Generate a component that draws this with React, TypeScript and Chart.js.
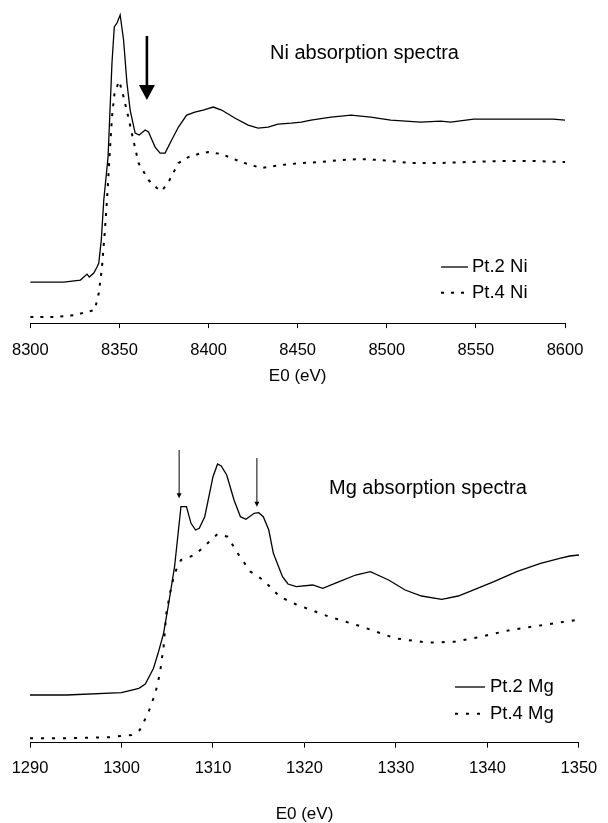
import { useEffect, useRef } from "react";
import { Chart, registerables } from "chart.js";

Chart.register(...registerables);

const FONT = "'Liberation Sans', Arial, Helvetica, sans-serif";

// ---- Ni K-edge spectra -------------------------------------------------
const NI_SERIES = ["Pt.2 Ni", "Pt.4 Ni"];
const NI_TICKS = [8300, 8350, 8400, 8450, 8500, 8550, 8600];

const NI_PT2_ENERGY = [
  8300, 8318.8, 8328.1, 8331.8, 8333.1, 8335.6, 8337.4, 8338.4, 8339.8, 8341.2,
  8343.6, 8345.8, 8347.1, 8348.6, 8350.4, 8352.3, 8354.2, 8356, 8358.8, 8361.1,
  8364.4, 8366.3, 8370, 8372.8, 8375.6, 8379.3, 8383.1, 8387.7, 8392.3, 8397,
  8402.6, 8407.3, 8414.7, 8422.2, 8427.8, 8433.4, 8439, 8446.4, 8452, 8457.5,
  8468.7, 8479.9, 8491, 8502.2, 8519, 8530.2, 8535.8, 8548.8, 8563.7, 8582.3,
  8593.3, 8600,
];
const NI_PT2_MU = [
  0.41, 0.41, 0.43, 0.49, 0.46, 0.5, 0.56, 0.6, 0.83, 1.23,
  1.66, 2.6, 2.96, 3.0, 3.08, 2.83, 2.4, 2.13, 1.9, 1.88,
  1.93, 1.91, 1.76, 1.7, 1.7, 1.83, 1.96, 2.08, 2.11, 2.13,
  2.16, 2.13, 2.05, 1.98, 1.95, 1.96, 1.99, 2.0, 2.01, 2.03,
  2.06, 2.08, 2.06, 2.03, 2.01, 2.02, 2.01, 2.04, 2.04, 2.04,
  2.04, 2.03,
];

const NI_PT4_ENERGY = [
  8300, 8314.1, 8325.3, 8330.9, 8336.1, 8338.4, 8340.2, 8341.7, 8343, 8344.3,
  8345.8, 8347.3, 8349.9, 8352.3, 8354.7, 8357.4, 8360.7, 8366.3, 8371, 8373.7,
  8377.5, 8383.1, 8388.7, 8396.1, 8399.8, 8407.3, 8418.4, 8429.6, 8440.8, 8452,
  8463.1, 8474.3, 8485.5, 8496.6, 8513.4, 8530.2, 8545.1, 8563.7, 8582.3, 8600,
];
const NI_PT4_MU = [
  0.06, 0.06, 0.08, 0.11, 0.13, 0.3, 0.56, 0.9, 1.23, 1.63,
  2.06, 2.31, 2.42, 2.26, 2.08, 1.86, 1.6, 1.43, 1.35, 1.32,
  1.41, 1.6, 1.66, 1.7, 1.71, 1.69, 1.61, 1.55, 1.58, 1.6,
  1.61, 1.63, 1.64, 1.63, 1.6, 1.6, 1.61, 1.62, 1.62, 1.61,
];

// arrow marking the pre-peak shoulder: [energy, top, tip]
const NI_ARROWS = [[8365.4, 2.87, 2.23]];

// ---- Mg K-edge spectra -------------------------------------------------
const MG_SERIES = ["Pt.2 Mg", "Pt.4 Mg"];
const MG_TICKS = [1290, 1300, 1310, 1320, 1330, 1340, 1350];

const MG_PT2_ENERGY = [
  1290, 1294, 1300, 1301.9, 1302.6, 1303.5, 1304, 1304.6, 1305.1, 1305.8,
  1306.5, 1307.1, 1307.6, 1308.1, 1308.5, 1309.1, 1310, 1310.5, 1310.9, 1311.5,
  1312.3, 1313, 1313.6, 1314.5, 1315, 1315.5, 1316.1, 1316.6, 1317.6, 1318.2,
  1319.1, 1320.9, 1322, 1323.8, 1325.6, 1327.2, 1329.2, 1331, 1332.8, 1335,
  1336.8, 1338.9, 1340.7, 1343.2, 1345.8, 1347.9, 1349, 1350,
];
const MG_PT2_MU = [
  0.477, 0.477, 0.5, 0.544, 0.587, 0.744, 0.894, 1.094, 1.36, 1.76,
  2.36, 2.36, 2.194, 2.127, 2.144, 2.26, 2.66, 2.787, 2.767, 2.677,
  2.427, 2.26, 2.234, 2.294, 2.3, 2.26, 2.127, 1.894, 1.66, 1.587,
  1.56, 1.577, 1.544, 1.61, 1.677, 1.71, 1.627, 1.527, 1.467, 1.434,
  1.467, 1.544, 1.61, 1.71, 1.794, 1.844, 1.867, 1.877,
];

const MG_PT4_ENERGY = [
  1290, 1294, 1298.6, 1301.1, 1302, 1302.9, 1303.7, 1304.2, 1304.6, 1304.9,
  1305.3, 1305.8, 1306.5, 1308, 1309.4, 1310.5, 1311.6, 1312.7, 1314.1, 1315.5,
  1317.3, 1319.1, 1322.7, 1326.3, 1329.9, 1333.5, 1336.4, 1339.3, 1342.5, 1346.1,
  1349.7, 1350,
];
const MG_PT4_MU = [
  0.044, 0.044, 0.054, 0.077, 0.127, 0.294, 0.494, 0.694, 0.96, 1.294,
  1.494, 1.694, 1.827, 1.877, 1.994, 2.087, 2.06, 1.894, 1.71, 1.627,
  1.46, 1.382, 1.26, 1.16, 1.044, 1.0, 1.01, 1.06, 1.127, 1.177,
  1.227, 1.23,
];

// arrows marking the two edge features: [energy, top, tip]
const MG_ARROWS = [
  [1306.3, 2.927, 2.444],
  [1314.8, 2.847, 2.36],
];

type Spec = {
  title: string;
  series: string[];
  ticks: number[];
  energies: number[][];
  values: number[][];
  arrows: number[][];
  yMax: number;
  height: number;
  padding: { left: number; right: number; top: number; bottom: number };
  tickPadding: number;
  titlePadTop: number;
  dash: number[];
  label: { x: number; y: number };
  legend: { x: number; y: number; len: number; gap: number; step: number };
  arrowStyle: { width: number; headLen: number; headWidth: number };
};

function makeConfig(spec: Spec): any {
  const styles = [
    { borderWidth: 1.3, borderDash: [] as number[] },
    { borderWidth: 2, borderDash: spec.dash },
  ];
  const datasets = spec.series.map((name, i) => ({
    label: name,
    data: spec.energies[i].map((e, k) => ({ x: e, y: spec.values[i][k] })),
    borderColor: "#000",
    backgroundColor: "#000",
    borderWidth: styles[i].borderWidth,
    borderDash: styles[i].borderDash,
    borderCapStyle: "butt",
    pointRadius: 0,
    tension: 0,
    fill: false,
    clip: false,
  }));

  const overlay = {
    id: "spectrumOverlay",
    afterDatasetsDraw(chart: any) {
      const { ctx, scales } = chart;
      const sx = scales.x;
      const sy = scales.y;
      ctx.save();

      // panel label
      ctx.fillStyle = "#000";
      ctx.font = `20px ${FONT}`;
      ctx.textAlign = "left";
      ctx.textBaseline = "middle";
      ctx.fillText(spec.title, spec.label.x, spec.label.y);

      // legend
      const lg = spec.legend;
      ctx.font = `18.5px ${FONT}`;
      chart.data.datasets.forEach((ds: any, i: number) => {
        const y = lg.y + i * lg.step;
        ctx.save();
        ctx.strokeStyle = "#000";
        ctx.lineWidth = ds.borderWidth;
        ctx.setLineDash(ds.borderDash || []);
        ctx.beginPath();
        ctx.moveTo(lg.x, y);
        ctx.lineTo(lg.x + lg.len, y);
        ctx.stroke();
        ctx.restore();
        ctx.fillText(ds.label, lg.x + lg.len + lg.gap, y);
      });

      // arrows
      const st = spec.arrowStyle;
      spec.arrows.forEach(([e, top, tip]) => {
        const x = sx.getPixelForValue(e);
        const y0 = sy.getPixelForValue(top);
        const y1 = sy.getPixelForValue(tip);
        ctx.strokeStyle = "#000";
        ctx.lineWidth = st.width;
        ctx.setLineDash([]);
        ctx.beginPath();
        ctx.moveTo(x, y0);
        ctx.lineTo(x, y1 - st.headLen + 1);
        ctx.stroke();
        ctx.beginPath();
        ctx.moveTo(x - st.headWidth / 2, y1 - st.headLen);
        ctx.lineTo(x + st.headWidth / 2, y1 - st.headLen);
        ctx.lineTo(x, y1);
        ctx.closePath();
        ctx.fill();
      });
      ctx.restore();
    },
  };

  return {
    type: "line",
    data: { datasets },
    options: {
      responsive: false,
      maintainAspectRatio: false,
      animation: false,
      parsing: true,
      layout: { padding: spec.padding },
      plugins: { legend: { display: false }, tooltip: { enabled: false } },
      scales: {
        x: {
          type: "linear",
          min: spec.ticks[0],
          max: spec.ticks[spec.ticks.length - 1],
          afterBuildTicks: (s: any) => {
            s.ticks = spec.ticks.map((value) => ({ value }));
          },
          ticks: {
            callback: (v: any) => String(v),
            color: "#000",
            font: { family: FONT, size: 16.5 },
            padding: spec.tickPadding,
            maxRotation: 0,
            autoSkip: false,
          },
          grid: {
            drawOnChartArea: false,
            drawTicks: true,
            tickLength: 5,
            tickColor: "#000",
            tickWidth: 1,
          },
          border: { display: true, color: "#000", width: 1 },
          title: {
            display: true,
            text: "E0 (eV)",
            color: "#000",
            font: { family: FONT, size: 17, lineHeight: 1 },
            padding: { top: spec.titlePadTop, bottom: 0 },
          },
        },
        y: { display: false, min: 0, max: spec.yMax },
      },
    },
    plugins: [overlay],
  };
}

const NI_SPEC: Spec = {
  title: "Ni absorption spectra",
  series: NI_SERIES,
  ticks: NI_TICKS,
  energies: [NI_PT2_ENERGY, NI_PT4_ENERGY],
  values: [NI_PT2_MU, NI_PT4_MU],
  arrows: NI_ARROWS,
  yMax: 3.1,
  height: 390,
  padding: { left: 28, right: 43, top: 13, bottom: 5 },
  tickPadding: 12,
  titlePadTop: -3.9,
  dash: [3, 7],
  label: { x: 270, y: 53 },
  legend: { x: 441, y: 267, len: 27, gap: 4, step: 25.7 },
  arrowStyle: { width: 2.6, headLen: 15, headWidth: 16 },
};

const MG_SPEC: Spec = {
  title: "Mg absorption spectra",
  series: MG_SERIES,
  ticks: MG_TICKS,
  energies: [MG_PT2_ENERGY, MG_PT4_ENERGY],
  values: [MG_PT2_MU, MG_PT4_MU],
  arrows: MG_ARROWS,
  yMax: 3.0,
  height: 433,
  padding: { left: 30, right: 22, top: 52.7, bottom: 0.5 },
  tickPadding: 10.7,
  titlePadTop: 16.6,
  dash: [3, 8],
  label: { x: 329, y: 98 },
  legend: { x: 455, y: 297, len: 30, gap: 5, step: 26.7 },
  arrowStyle: { width: 1, headLen: 5, headWidth: 5 },
};

function SpectrumPanel({ spec }: { spec: Spec }) {
  const ref = useRef<HTMLCanvasElement | null>(null);
  useEffect(() => {
    if (!ref.current) return;
    const chart = new Chart(ref.current, makeConfig(spec));
    return () => chart.destroy();
  }, [spec]);
  return (
    <canvas
      ref={ref}
      width={608}
      height={spec.height}
      style={{ display: "block", width: 608, height: spec.height }}
    />
  );
}

export default function App() {
  return (
    <div
      style={{
        position: "absolute",
        left: 0,
        top: 0,
        width: 608,
        height: 823,
        background: "#fff",
        overflow: "hidden",
      }}
    >
      <SpectrumPanel spec={NI_SPEC} />
      <SpectrumPanel spec={MG_SPEC} />
    </div>
  );
}
